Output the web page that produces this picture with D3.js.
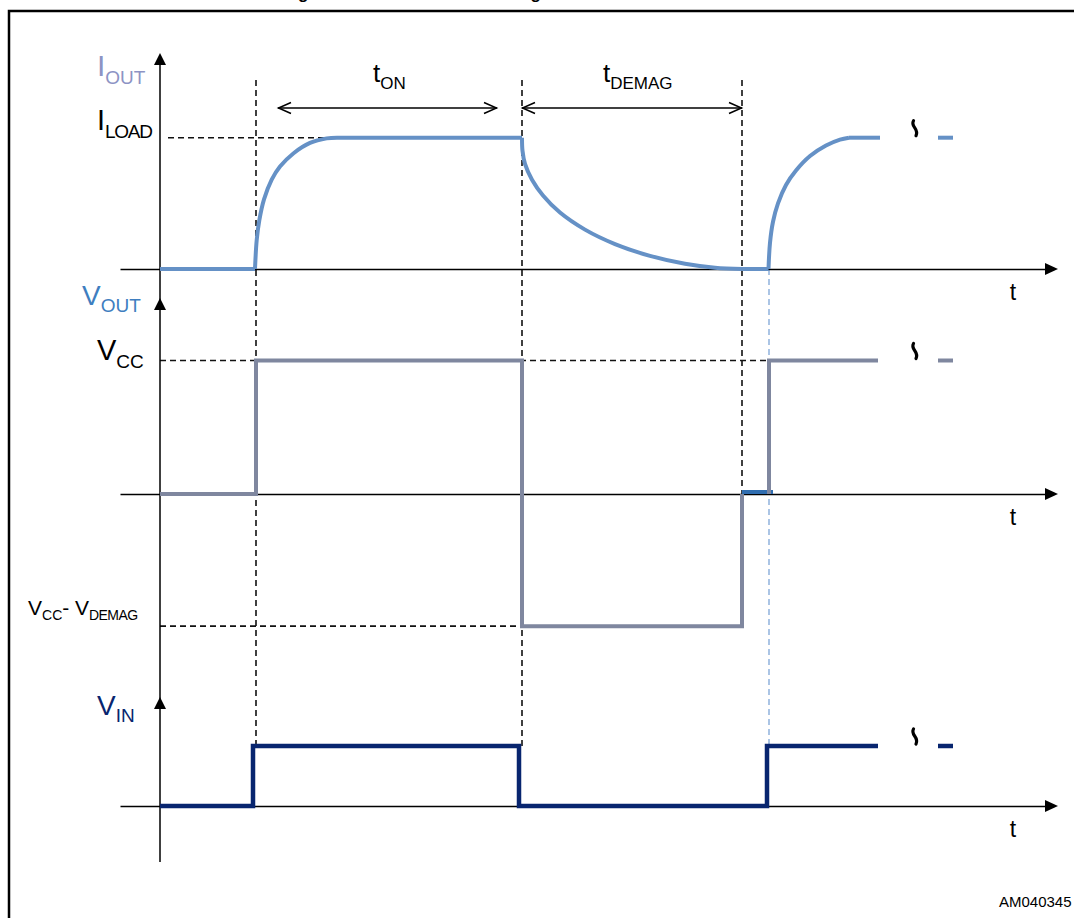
<!DOCTYPE html>
<html>
<head>
<meta charset="utf-8">
<script src="https://cdn.jsdelivr.net/npm/d3@7"></script>
<style>
  body { margin: 0; background: #fff; }
  svg { display: block; font-family: "Liberation Sans", Arial, sans-serif; }
</style>
</head>
<body>
<svg id="chart" width="1074" height="918"></svg>
<script>
// time axis in arbitrary units, amplitudes normalised (I_LOAD = 1, VCC = 1, VIN high = 1)
const markerTimes = [9.6, 36.2, 58.2];      // switch-on, switch-off, end of demag
const restartTime = 60.9;                    // second switch-on (light blue guide)
const vccMinusDemag = -0.99;

// I_OUT trace, split in straight and curved pieces
const iFlats = [
  [[0, 0], [9.5, 0]],
  [[17.7, 1], [36.2, 1]],
  [[58.2, 0], [60.85, 0]],
  [[68.9, 1], [72.0, 1]]
];
const iRise1 = [[9.5, 0], [9.67, 0.22], [9.93, 0.37], [10.4, 0.53], [11.17, 0.68], [12.0, 0.78],
  [13.33, 0.88], [15.0, 0.96], [16.67, 0.995], [17.7, 1]];
const iDecay = [[36.2, 1], [36.25, 0.9], [36.5, 0.8], [37.2, 0.68], [38.3, 0.56], [40.0, 0.43],
  [42.5, 0.3], [45.5, 0.19], [49.0, 0.1], [52.5, 0.04], [55.5, 0.01], [58.2, 0]];
const iRise2 = [[60.85, 0], [61.0, 0.2], [61.3, 0.36], [61.8, 0.5], [62.6, 0.64], [63.6, 0.75],
  [65.0, 0.86], [66.6, 0.94], [68.0, 0.985], [68.9, 1]];

// V_OUT trace
const vOutT = [0, 9.6, 9.6, 36.2, 36.2, 58.2, 58.2];
const vOutV = [0, 0, 1, 1, vccMinusDemag, vccMinusDemag, 0];
const vOut2T = [60.9, 60.9, 71.8];
const vOut2V = [0, 1, 1];
const vOutGapT = [58.2, 61.3];
const vOutGapV = [0.015, 0.015];

// V_IN trace
const vInT = [0, 9.3, 9.3, 35.9, 35.9, 60.7, 60.7, 71.8];
const vInV = [0, 0, 1, 1, 0, 0, 1, 1];

// continuation marks after the break
const breakT = [77.8, 79.3];
const tildeT = 75.5;

const svg = d3.select("#chart");

// scales
const x = d3.scaleLinear().domain([0, 90]).range([160, 1060]);
const yI = d3.scaleLinear().domain([0, 1]).range([269, 137.7]);
const yVo = d3.scaleLinear().domain([0, 1]).range([494, 360.5]);
const yVi = d3.scaleLinear().domain([0, 1]).range([806, 746]);

const colI = "#6591c6";
const colVo = "#7f879f";
const colVi = "#08256f";

// frame and cut-off title
svg.append("rect")
  .attr("x", 9).attr("y", 11)
  .attr("width", 1100).attr("height", 960)
  .attr("fill", "none").attr("stroke", "#000").attr("stroke-width", 2.5);

svg.append("text")
  .attr("x", 283).attr("y", -1)
  .attr("font-weight", "bold").attr("font-size", 17)
  .text("Figure 11. Inductive load demagnetization waveforms");

// dashed guides (drawn first, traces go on top)
function guide(x1, y1, x2, y2, color, w) {
  svg.append("line")
    .attr("x1", x1).attr("y1", y1).attr("x2", x2).attr("y2", y2)
    .attr("stroke", color || "#111")
    .attr("stroke-width", w || 1.6)
    .attr("stroke-dasharray", "6,4");
}
guide(x(markerTimes[0]), 80, x(markerTimes[0]), yVi(1));
guide(x(markerTimes[1]), 80, x(markerTimes[1]), yVi(1));
guide(x(markerTimes[2]), 80, x(markerTimes[2]), yVo(0));
guide(x(restartTime), yI(0), x(restartTime), yVi(1), "#7ea6d8", 1.3);
guide(x(0.8), yI(1), x(17.7), yI(1));
guide(x(0), yVo(1), x(restartTime), yVo(1));
guide(x(0), yVo(vccMinusDemag), x(markerTimes[1]), yVo(vccMinusDemag));

// horizontal axes with arrow heads
const xAxisScale = x.copy().domain([-4, 88.5]).range([x(-4), x(88.5)]);
[yI(0), yVo(0), yVi(0)].forEach(function (yy) {
  svg.append("g")
    .attr("transform", "translate(0," + yy + ")")
    .call(d3.axisBottom(xAxisScale).tickValues([]).tickSizeOuter(0))
    .select(".domain")
    .attr("stroke", "#000").attr("stroke-width", 1.5);
  svg.append("path")
    .attr("d", "M" + x(88.5) + "," + (yy - 6) + "L" + x(89.8) + "," + yy + "L" + x(88.5) + "," + (yy + 6) + "Z")
    .attr("fill", "#000");
});

// vertical axis, one line with three arrow heads
svg.append("line")
  .attr("x1", x(0)).attr("x2", x(0))
  .attr("y1", 60).attr("y2", 862)
  .attr("stroke", "#000").attr("stroke-width", 1.5);
[53, 298, 697].forEach(function (tip) {
  svg.append("path")
    .attr("d", "M" + (x(0) - 6) + "," + (tip + 12) + "L" + x(0) + "," + tip + "L" + (x(0) + 6) + "," + (tip + 12) + "Z")
    .attr("fill", "#000");
});

// t_ON / t_DEMAG dimension arrows
function dimArrow(x1, x2, yy) {
  svg.append("line")
    .attr("x1", x1).attr("x2", x2).attr("y1", yy).attr("y2", yy)
    .attr("stroke", "#000").attr("stroke-width", 1.5);
  svg.append("path")
    .attr("d", "M" + (x1 + 13) + "," + (yy - 5.5) + "L" + (x1 + 0.5) + "," + yy + "L" + (x1 + 13) + "," + (yy + 5.5))
    .attr("fill", "none").attr("stroke", "#000").attr("stroke-width", 1.5);
  svg.append("path")
    .attr("d", "M" + (x2 - 13) + "," + (yy - 5.5) + "L" + (x2 - 0.5) + "," + yy + "L" + (x2 - 13) + "," + (yy + 5.5))
    .attr("fill", "none").attr("stroke", "#000").attr("stroke-width", 1.5);
}
dimArrow(x(11.8), x(33.7), 108);
dimArrow(x(markerTimes[1]), x(markerTimes[2]), 108);

// traces
const lineI = d3.line().x(function (d) { return x(d[0]); }).y(function (d) { return yI(d[1]); });
const curveI = d3.line().x(function (d) { return x(d[0]); }).y(function (d) { return yI(d[1]); })
  .curve(d3.curveCatmullRom.alpha(0.5));
iFlats.forEach(function (seg) {
  svg.append("path").datum(seg).attr("d", lineI)
    .attr("fill", "none").attr("stroke", colI).attr("stroke-width", 4);
});
[iRise1, iDecay, iRise2].forEach(function (seg) {
  svg.append("path").datum(seg).attr("d", curveI)
    .attr("fill", "none").attr("stroke", colI).attr("stroke-width", 4);
});

const lineVo = d3.line().x(function (d) { return x(d[0]); }).y(function (d) { return yVo(d[1]); });
svg.append("path")
  .datum(d3.zip(vOutT, vOutV))
  .attr("d", lineVo)
  .attr("fill", "none").attr("stroke", colVo).attr("stroke-width", 4);
svg.append("path")
  .datum(d3.zip(vOutGapT, vOutGapV))
  .attr("d", lineVo)
  .attr("fill", "none").attr("stroke", "#2f6db0").attr("stroke-width", 4);
svg.append("path")
  .datum(d3.zip(vOut2T, vOut2V))
  .attr("d", lineVo)
  .attr("fill", "none").attr("stroke", colVo).attr("stroke-width", 4);

const lineVi = d3.line().x(function (d) { return x(d[0]); }).y(function (d) { return yVi(d[1]); });
svg.append("path")
  .datum(d3.zip(vInT, vInV))
  .attr("d", lineVi)
  .attr("fill", "none").attr("stroke", colVi).attr("stroke-width", 4.5);

// break marks: small vertical wave + short dash
function tilde(cx, bottom) {
  const p = d3.path();
  const top = bottom - 15;
  p.moveTo(cx - 1.5, top);
  p.bezierCurveTo(cx - 5, top + 6, cx + 4.5, top + 8, cx + 1, bottom);
  svg.append("path").attr("d", p.toString())
    .attr("fill", "none").attr("stroke", "#000").attr("stroke-width", 3.2)
    .attr("stroke-linecap", "round");
}
[[yI(1), colI, 4], [yVo(1), colVo, 4], [yVi(1), colVi, 4.5]].forEach(function (b) {
  svg.append("line")
    .attr("x1", x(breakT[0])).attr("x2", x(breakT[1]))
    .attr("y1", b[0]).attr("y2", b[0])
    .attr("stroke", b[1]).attr("stroke-width", b[2]);
  tilde(x(tildeT), b[0] - 2);
});

// labels
function label(xx, yy, main, sub, color, size, subSize, spacing) {
  const t = svg.append("text")
    .attr("x", xx).attr("y", yy)
    .attr("fill", color).attr("font-size", size);
  t.append("tspan").text(main);
  t.append("tspan")
    .attr("font-size", subSize)
    .attr("dy", size * 0.26)
    .attr("letter-spacing", spacing || 0)
    .text(sub);
  return t;
}
label(97, 76, "I", "OUT", "#8d93c4", 30, 19);
label(97, 130, "I", "LOAD", "#000", 29, 19, -1.3);
label(82, 305, "V", "OUT", "#3e7ec0", 28, 19);
label(97, 360, "V", "CC", "#000", 29, 19);
label(97, 715, "V", "IN", colVi, 28, 19);
label(373, 82, "t", "ON", "#000", 26, 17);
label(603, 82, "t", "DEMAG", "#000", 26, 17);

const vd = svg.append("text").attr("x", 28).attr("y", 615).attr("font-size", 21);
vd.append("tspan").text("V");
vd.append("tspan").attr("font-size", 14).attr("dy", 5).text("CC");
vd.append("tspan").attr("dy", -5).text("- V");
vd.append("tspan").attr("font-size", 14).attr("dy", 5).attr("letter-spacing", -0.6).text("DEMAG");

[yI(0), yVo(0), yVi(0)].forEach(function (yy) {
  svg.append("text")
    .attr("x", 1013).attr("y", yy + 31)
    .attr("text-anchor", "middle").attr("font-size", 23)
    .text("t");
});

svg.append("text")
  .attr("x", 999).attr("y", 907)
  .attr("font-size", 15)
  .text("AM040345");
</script>
</body>
</html>
